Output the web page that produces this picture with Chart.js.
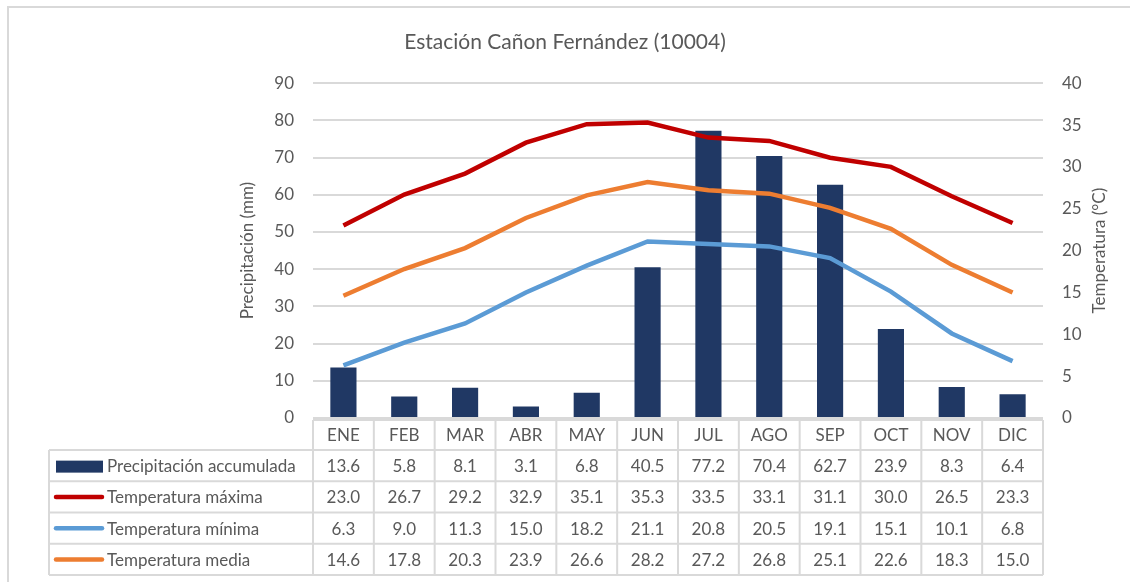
<!DOCTYPE html>
<html>
<head>
<meta charset="utf-8">
<title>Estación Cañon Fernández (10004)</title>
<script src="https://cdn.jsdelivr.net/npm/chart.js@4/dist/chart.umd.min.js"></script>
<style>
  html, body { margin: 0; padding: 0; background: #ffffff; }
  canvas { display: block; }
</style>
</head>
<body>
<canvas id="grafica" width="1130" height="582"></canvas>
<script>
// Datos climáticos mensuales de la estación
const meses = ['ENE', 'FEB', 'MAR', 'ABR', 'MAY', 'JUN', 'JUL', 'AGO', 'SEP', 'OCT', 'NOV', 'DIC'];
const precipitacion = [13.6, 5.8, 8.1, 3.1, 6.8, 40.5, 77.2, 70.4, 62.7, 23.9, 8.3, 6.4];
const tempMaxima = [23.0, 26.7, 29.2, 32.9, 35.1, 35.3, 33.5, 33.1, 31.1, 30.0, 26.5, 23.3];
const tempMinima = [6.3, 9.0, 11.3, 15.0, 18.2, 21.1, 20.8, 20.5, 19.1, 15.1, 10.1, 6.8];
const tempMedia = [14.6, 17.8, 20.3, 23.9, 26.6, 28.2, 27.2, 26.8, 25.1, 22.6, 18.3, 15.0];

const FUENTE = 'Lato, "Liberation Sans", sans-serif';
const GRIS_TEXTO = '#595959';
const GRIS_LINEA = '#d9d9d9';

const COLOR_PRECIP = '#203864';
const COLOR_MAX = '#C00000';
const COLOR_MIN = '#5B9BD5';
const COLOR_MED = '#ED7D31';

// Marco exterior del gráfico
const marcoPlugin = {
  id: 'marco',
  beforeDraw(chart) {
    const ctx = chart.ctx;
    ctx.save();
    ctx.fillStyle = '#ffffff';
    ctx.fillRect(0, 0, chart.width, chart.height);
    ctx.strokeStyle = GRIS_LINEA;
    ctx.lineWidth = 2;
    ctx.beginPath();
    ctx.moveTo(8, chart.height);
    ctx.lineTo(8, 7);
    ctx.lineTo(chart.width, 7);
    ctx.stroke();
    ctx.restore();
  }
};

// Título del eje secundario, leído de abajo hacia arriba
const tituloDerechoPlugin = {
  id: 'tituloDerecho',
  afterDraw(chart) {
    const ctx = chart.ctx;
    const area = chart.chartArea;
    ctx.save();
    ctx.translate(1100, (area.top + area.bottom) / 2);
    ctx.rotate(-Math.PI / 2);
    ctx.font = '17px ' + FUENTE;
    ctx.fillStyle = GRIS_TEXTO;
    ctx.textAlign = 'center';
    ctx.textBaseline = 'middle';
    ctx.fillText('Temperatura (°C)', 0, 0);
    ctx.restore();
  }
};

// Tabla de datos bajo el eje de categorías
const filasTabla = [
  { nombre: 'Precipitación accumulada', valores: precipitacion, color: COLOR_PRECIP, tipo: 'barra' },
  { nombre: 'Temperatura máxima', valores: tempMaxima, color: COLOR_MAX, tipo: 'linea' },
  { nombre: 'Temperatura mínima', valores: tempMinima, color: COLOR_MIN, tipo: 'linea' },
  { nombre: 'Temperatura media', valores: tempMedia, color: COLOR_MED, tipo: 'linea' }
];

const tablaPlugin = {
  id: 'tabla',
  afterDraw(chart) {
    const ctx = chart.ctx;
    const area = chart.chartArea;
    const ejeX = chart.scales.x;
    const anchoCol = (area.right - area.left) / meses.length;
    const bordes = meses.map((m, i) => ejeX.getPixelForValue(i) - anchoCol / 2);
    bordes.push(area.right);

    const cabArriba = area.bottom + 2;
    const cabAbajo = cabArriba + 30;
    const altoFila = 31.25;
    const izqTabla = 49;
    const filasY = [cabAbajo];
    for (let r = 1; r <= filasTabla.length; r++) filasY.push(cabAbajo + r * altoFila);

    ctx.save();
    ctx.strokeStyle = GRIS_LINEA;
    ctx.lineWidth = 2;
    ctx.beginPath();
    // Cabecera de meses
    ctx.moveTo(area.left, cabArriba);
    ctx.lineTo(area.right, cabArriba);
    bordes.forEach(x => { ctx.moveTo(x, cabArriba); ctx.lineTo(x, filasY[filasY.length - 1]); });
    // Filas de series
    filasY.forEach(y => { ctx.moveTo(izqTabla, y); ctx.lineTo(area.right, y); });
    ctx.moveTo(izqTabla, cabAbajo);
    ctx.lineTo(izqTabla, filasY[filasY.length - 1]);
    ctx.stroke();

    ctx.font = '17px ' + FUENTE;
    ctx.fillStyle = GRIS_TEXTO;
    ctx.textBaseline = 'middle';
    ctx.textAlign = 'center';
    meses.forEach((m, i) => {
      ctx.fillText(m, ejeX.getPixelForValue(i), (cabArriba + cabAbajo) / 2 + 1);
    });

    filasTabla.forEach((fila, r) => {
      const yc = (filasY[r] + filasY[r + 1]) / 2 + 1;
      // Clave de la serie
      ctx.fillStyle = fila.color;
      if (fila.tipo === 'barra') {
        ctx.fillRect(56, yc - 6, 47, 12);
      } else {
        ctx.save();
        ctx.strokeStyle = fila.color;
        ctx.lineWidth = 4.5;
        ctx.lineCap = 'round';
        ctx.beginPath();
        ctx.moveTo(56, yc - 1);
        ctx.lineTo(102, yc - 1);
        ctx.stroke();
        ctx.restore();
      }
      ctx.fillStyle = GRIS_TEXTO;
      ctx.textAlign = 'left';
      ctx.fillText(fila.nombre, 107, yc);
      ctx.textAlign = 'center';
      fila.valores.forEach((v, i) => {
        ctx.fillText(v.toFixed(1), ejeX.getPixelForValue(i), yc);
      });
    });
    ctx.restore();
  }
};

new Chart(document.getElementById('grafica'), {
  data: {
    labels: meses,
    datasets: [
      {
        type: 'line',
        label: 'Temperatura máxima',
        data: tempMaxima,
        yAxisID: 'y1',
        borderColor: COLOR_MAX,
        backgroundColor: COLOR_MAX,
        borderWidth: 4.5,
        pointRadius: 0,
        tension: 0,
        order: 1
      },
      {
        type: 'line',
        label: 'Temperatura mínima',
        data: tempMinima,
        yAxisID: 'y1',
        borderColor: COLOR_MIN,
        backgroundColor: COLOR_MIN,
        borderWidth: 4.5,
        pointRadius: 0,
        tension: 0,
        order: 1
      },
      {
        type: 'line',
        label: 'Temperatura media',
        data: tempMedia,
        yAxisID: 'y1',
        borderColor: COLOR_MED,
        backgroundColor: COLOR_MED,
        borderWidth: 4.5,
        pointRadius: 0,
        tension: 0,
        order: 1
      },
      {
        type: 'bar',
        label: 'Precipitación accumulada',
        data: precipitacion,
        yAxisID: 'y',
        backgroundColor: COLOR_PRECIP,
        categoryPercentage: 1,
        barPercentage: 0.43,
        order: 2
      }
    ]
  },
  options: {
    responsive: false,
    animation: false,
    devicePixelRatio: 1,
    layout: { padding: { top: 0, bottom: 164, left: 0, right: 0 } },
    plugins: {
      legend: { display: false },
      tooltip: { enabled: false },
      title: {
        display: true,
        text: 'Estación Cañon Fernández (10004)',
        color: GRIS_TEXTO,
        font: { family: FUENTE, size: 21, weight: 'normal' },
        padding: { top: 30, bottom: 28 }
      }
    },
    scales: {
      x: {
        display: false,
        offset: true,
        grid: { display: false }
      },
      y: {
        position: 'left',
        min: 0,
        max: 90,
        ticks: {
          stepSize: 10,
          padding: 19,
          color: GRIS_TEXTO,
          font: { family: FUENTE, size: 17 }
        },
        grid: { color: GRIS_LINEA, lineWidth: 2, drawTicks: false },
        border: { display: false },
        title: {
          display: true,
          text: 'Precipitación (mm)',
          color: GRIS_TEXTO,
          font: { family: FUENTE, size: 17 },
          padding: { top: 237, bottom: 0 }
        },
        afterFit(scale) { scale.width = 313; }
      },
      y1: {
        position: 'right',
        min: 0,
        max: 40,
        ticks: {
          stepSize: 5,
          padding: 19,
          color: GRIS_TEXTO,
          font: { family: FUENTE, size: 17 }
        },
        grid: { display: false, drawTicks: false },
        border: { display: false },
        afterFit(scale) { scale.width = 87; }
      }
    }
  },
  plugins: [marcoPlugin, tablaPlugin, tituloDerechoPlugin]
});
</script>
</body>
</html>
